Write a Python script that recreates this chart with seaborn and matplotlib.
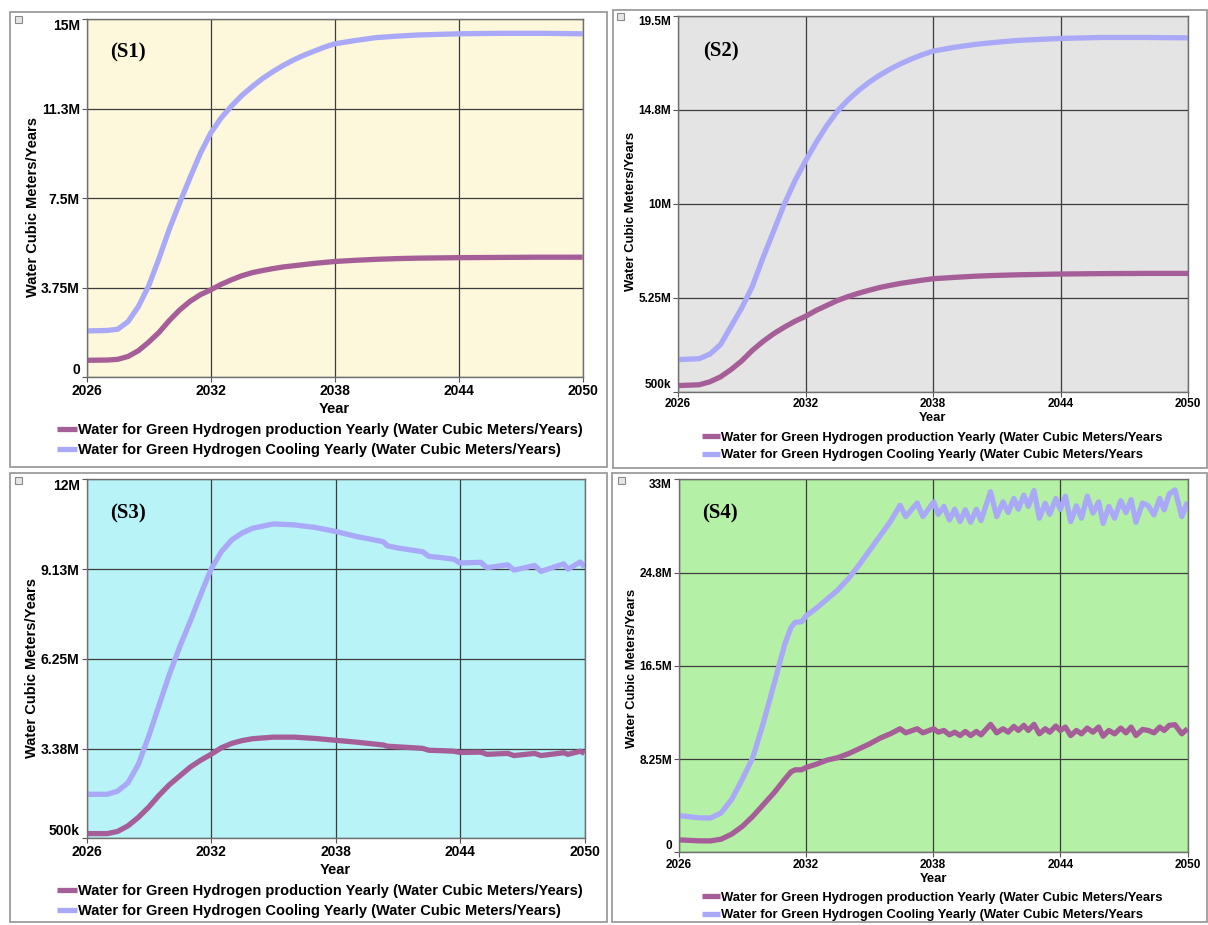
import matplotlib
matplotlib.use("Agg")
import matplotlib.pyplot as plt
import pandas as pd
import seaborn as sns
from matplotlib.patches import Rectangle

# ---------------------------------------------------------------- data (million m3 / year)
years_smooth = [2026, 2027, 2027.5, 2028, 2028.5, 2029, 2029.5, 2030, 2030.5, 2031, 2031.5,
                2032, 2032.5, 2033, 2033.5, 2034, 2034.5, 2035, 2035.5, 2036, 2036.5, 2037,
                2037.5, 2038, 2039, 2040, 2041, 2042, 2044, 2046, 2048, 2050]

s1_production = [0.70, 0.71, 0.74, 0.86, 1.10, 1.46, 1.87, 2.37, 2.81, 3.17, 3.45,
                 3.65, 3.88, 4.07, 4.24, 4.37, 4.46, 4.54, 4.61, 4.66, 4.71, 4.76,
                 4.80, 4.84, 4.89, 4.93, 4.96, 4.98, 5.00, 5.01, 5.02, 5.02]
s1_cooling = [1.93, 1.95, 2.00, 2.32, 2.95, 3.82, 4.97, 6.20, 7.30, 8.35, 9.37,
              10.22, 10.85, 11.35, 11.79, 12.16, 12.50, 12.79, 13.05, 13.28, 13.48, 13.65,
              13.82, 13.96, 14.10, 14.22, 14.28, 14.33, 14.38, 14.40, 14.40, 14.38]

s2_production = [0.80, 0.84, 0.99, 1.24, 1.61, 2.05, 2.58, 3.03, 3.42, 3.75, 4.05,
                 4.30, 4.60, 4.85, 5.10, 5.30, 5.47, 5.62, 5.76, 5.87, 5.97, 6.05,
                 6.13, 6.20, 6.27, 6.33, 6.37, 6.40, 6.44, 6.46, 6.47, 6.47]
s2_cooling = [2.11, 2.16, 2.39, 2.87, 3.80, 4.73, 5.82, 7.26, 8.61, 9.97, 11.15,
              12.16, 13.09, 13.94, 14.67, 15.24, 15.72, 16.14, 16.50, 16.81, 17.08, 17.32,
              17.53, 17.71, 17.90, 18.05, 18.16, 18.25, 18.35, 18.40, 18.40, 18.38]

s3_years = [2026, 2027, 2027.5, 2028, 2028.5, 2029, 2029.5, 2030, 2030.5, 2031, 2031.5,
            2032, 2032.5, 2033, 2033.5, 2034, 2035, 2036, 2037, 2038, 2039, 2040, 2040.3,
            2040.5, 2041, 2042, 2042.2, 2042.5, 2043, 2043.7, 2044, 2045, 2045.3, 2046.3,
            2046.6, 2047.6, 2047.9, 2049.0, 2049.2, 2049.8, 2050]
s3_production = [0.65, 0.65, 0.72, 0.90, 1.17, 1.50, 1.88, 2.22, 2.50, 2.78, 3.00,
                 3.19, 3.40, 3.54, 3.63, 3.69, 3.74, 3.74, 3.70, 3.64, 3.58, 3.51, 3.49,
                 3.45, 3.43, 3.39, 3.38, 3.32, 3.31, 3.29, 3.25, 3.26, 3.19, 3.22,
                 3.15, 3.22, 3.15, 3.24, 3.19, 3.29, 3.22]
s3_cooling = [1.91, 1.91, 2.01, 2.28, 2.87, 3.77, 4.77, 5.76, 6.65, 7.45, 8.30,
              9.12, 9.68, 10.06, 10.28, 10.43, 10.57, 10.54, 10.46, 10.33, 10.17, 10.04, 10.00,
              9.87, 9.80, 9.70, 9.68, 9.53, 9.50, 9.44, 9.32, 9.34, 9.17, 9.26,
              9.09, 9.24, 9.05, 9.29, 9.12, 9.35, 9.19]

s4_years = [2026, 2027, 2027.5, 2028, 2028.5, 2029, 2029.5, 2030, 2030.5, 2031, 2031.3,
            2031.5, 2031.8, 2032, 2032.5, 2033, 2033.5, 2034, 2034.5, 2035, 2035.5, 2036,
            2036.44, 2036.71, 2037.25, 2037.52, 2038.03, 2038.24, 2038.51, 2038.77,
            2039.02, 2039.27, 2039.52, 2039.77, 2040.04, 2040.26, 2040.71, 2041.0,
            2041.3, 2041.54, 2041.81, 2042.02, 2042.28, 2042.49, 2042.76, 2043.01,
            2043.29, 2043.5, 2043.79, 2044.0, 2044.24, 2044.49, 2044.76, 2045.0,
            2045.27, 2045.54, 2045.81, 2046.02, 2046.29, 2046.56, 2046.85, 2047.1,
            2047.34, 2047.57, 2047.88, 2048.15, 2048.42, 2048.69, 2048.9, 2049.14,
            2049.41, 2049.73, 2050.0]
s4_production = [1.10, 1.01, 1.01, 1.16, 1.61, 2.29, 3.19, 4.23, 5.27, 6.46, 7.12,
                 7.30, 7.30, 7.50, 7.80, 8.16, 8.37, 8.72, 9.15, 9.59, 10.10, 10.50,
                 10.93, 10.57, 10.93, 10.57, 10.93, 10.63, 10.78, 10.39, 10.63, 10.33,
                 10.69, 10.33, 10.69, 10.39, 11.32, 10.57, 10.93, 10.63, 11.14, 10.78,
                 11.23, 10.78, 11.32, 10.48, 10.93, 10.63, 11.17, 10.78, 11.08, 10.33,
                 10.78, 10.48, 10.99, 10.63, 11.08, 10.27, 10.78, 10.48, 10.99, 10.57,
                 11.08, 10.33, 10.87, 10.78, 10.57, 11.08, 10.78, 11.23, 11.29, 10.48,
                 10.93]
s4_cooling = [3.25, 3.04, 3.04, 3.48, 4.68, 6.46, 8.40, 11.50, 14.90, 18.40, 19.90,
              20.35, 20.40, 20.90, 21.60, 22.40, 23.20, 24.20, 25.40, 26.70, 28.00, 29.30,
              30.70, 29.70, 30.90, 29.70, 31.00, 29.90, 30.60, 29.40, 30.35, 29.26,
              30.30, 29.20, 30.35, 29.35, 31.90, 29.70, 31.00, 30.06, 31.30, 30.35,
              31.60, 30.60, 32.00, 29.56, 30.88, 29.90, 31.30, 30.35, 31.50, 29.26,
              30.65, 29.56, 31.50, 30.00, 31.00, 29.10, 30.60, 29.56, 31.10, 30.06,
              31.20, 29.20, 30.90, 30.65, 29.85, 31.30, 30.30, 31.70, 32.06, 29.70,
              31.00]

x_ticks = [2026, 2032, 2038, 2044, 2050]
s1_yticks = [0, 3.75, 7.5, 11.25, 15]
s1_ylabels = ["0", "3.75M", "7.5M", "11.3M", "15M"]
s2_yticks = [0.5, 5.25, 10, 14.75, 19.5]
s2_ylabels = ["500k", "5.25M", "10M", "14.8M", "19.5M"]
s3_yticks = [0.5, 3.375, 6.25, 9.125, 12]
s3_ylabels = ["500k", "3.38M", "6.25M", "9.13M", "12M"]
s4_yticks = [0, 8.25, 16.5, 24.75, 33]
s4_ylabels = ["0", "8.25M", "16.5M", "24.8M", "33M"]

panel_titles = ["(S1)", "(S2)", "(S3)", "(S4)"]
label_production = "Water for Green Hydrogen production Yearly (Water Cubic Meters/Years)"
label_cooling = "Water for Green Hydrogen Cooling Yearly (Water Cubic Meters/Years)"
label_production_short = "Water for Green Hydrogen production Yearly (Water Cubic Meters/Years"
label_cooling_short = "Water for Green Hydrogen Cooling Yearly (Water Cubic Meters/Years"

# ---------------------------------------------------------------- style
sns.set_theme(style="white")
plt.rcParams["font.family"] = ["Liberation Sans", "DejaVu Sans"]
plt.rcParams["font.weight"] = "bold"
plt.rcParams["text.color"] = "black"
plt.rcParams["axes.labelcolor"] = "black"

PROD_COLOR = "#A65E98"
COOL_COLOR = "#A9A9F8"
GRID_COLOR = "#3c3c3c"

W, H = 1208, 925
fig = plt.figure(figsize=(W / 100, H / 100), dpi=100)
fig.patch.set_facecolor("white")


def fig_rect(left, top, right, bottom):
    return [left / W, 1 - bottom / H, (right - left) / W, (bottom - top) / H]


panels = [
    dict(years=years_smooth, prod=s1_production, cool=s1_cooling, yticks=s1_yticks,
         ylabels=s1_ylabels, bg="#FDF7DB", title=panel_titles[0],
         plot=(86.7, 19.0, 582.7, 377.0), box=(9.5, 12.5, 606.5, 467.5),
         title_xy=(128, 52), ylabel_x=33, ylabel_y=207, year_y=409,
         legend_xy=(57, 423), big=True, icon=(15, 16),
         labels=(label_production, label_cooling)),
    dict(years=years_smooth, prod=s2_production, cool=s2_cooling, yticks=s2_yticks,
         ylabels=s2_ylabels, bg="#E4E4E4", title=panel_titles[1],
         plot=(678.0, 15.7, 1188.0, 391.5), box=(612.5, 9.5, 1206.5, 468.0),
         title_xy=(721, 51), ylabel_x=631, ylabel_y=211, year_y=418,
         legend_xy=(702, 431.5), big=False, icon=(617, 13),
         labels=(label_production_short, label_cooling_short)),
    dict(years=s3_years, prod=s3_production, cool=s3_cooling, yticks=s3_yticks,
         ylabels=s3_ylabels, bg="#B8F3F7", title=panel_titles[2],
         plot=(86.5, 479.3, 584.5, 838.3), box=(10.0, 472.5, 607.0, 922.0),
         title_xy=(128, 513), ylabel_x=32, ylabel_y=668, year_y=870,
         legend_xy=(57, 884), big=True, icon=(15, 477),
         labels=(label_production, label_cooling)),
    dict(years=s4_years, prod=s4_production, cool=s4_cooling, yticks=s4_yticks,
         ylabels=s4_ylabels, bg="#B4F0A6", title=panel_titles[3],
         plot=(678.7, 479.3, 1187.5, 852.3), box=(611.5, 472.5, 1206.5, 922.0),
         title_xy=(720, 513), ylabel_x=632, ylabel_y=668, year_y=879,
         legend_xy=(702, 891.5), big=False, icon=(618, 477),
         labels=(label_production_short, label_cooling_short)),
]

for p in panels:
    # outer frame of each chart window
    bl, bt, br, bb = p["box"]
    fig.patches.append(Rectangle((bl / W, 1 - bb / H), (br - bl) / W, (bb - bt) / H,
                                 transform=fig.transFigure, fill=False,
                                 edgecolor="#9c9c9c", linewidth=1.3, zorder=0))
    ix, iy = p["icon"]
    fig.patches.append(Rectangle((ix / W, 1 - (iy + 7) / H), 7 / W, 7 / H,
                                 transform=fig.transFigure, facecolor="#e6e6e6",
                                 edgecolor="#8a8a8a", linewidth=0.8, zorder=1))

    left, top, right, bottom = p["plot"]
    ax = fig.add_axes(fig_rect(left, top, right, bottom))
    ax.set_facecolor(p["bg"])

    tick_fs = 10 if p["big"] else 8.5
    label_fs = 10.5 if p["big"] else 9.4
    legend_fs = 10.5 if p["big"] else 9.4

    df = pd.DataFrame({"Year": p["years"], "Production": p["prod"], "Cooling": p["cool"]})
    sns.lineplot(data=df, x="Year", y="Production", ax=ax, color=PROD_COLOR,
                 linewidth=3.8, label=p["labels"][0], legend=False,
                 solid_capstyle="butt", solid_joinstyle="round")
    sns.lineplot(data=df, x="Year", y="Cooling", ax=ax, color=COOL_COLOR,
                 linewidth=3.8, label=p["labels"][1], legend=False,
                 solid_capstyle="butt", solid_joinstyle="round")

    ax.set_xlim(2026, 2050)
    ax.set_ylim(p["yticks"][0], p["yticks"][-1])
    ax.set_xticks(x_ticks)
    ax.set_xticklabels([str(t) for t in x_ticks], fontsize=tick_fs, fontweight="bold")
    ax.set_yticks(p["yticks"])
    ax.set_yticklabels(p["ylabels"], fontsize=tick_fs, fontweight="bold")
    ylabs = ax.get_yticklabels()
    ylabs[0].set_verticalalignment("bottom")
    ylabs[-1].set_verticalalignment("top")

    ax.tick_params(axis="both", which="major", direction="out", length=3.5, width=0.8,
                   color="#555555", pad=1.5, labelcolor="black", bottom=True, left=True)
    ax.set_axisbelow(True)
    ax.grid(True, color=GRID_COLOR, linewidth=0.9)
    for sp in ax.spines.values():
        sp.set_color("#707070")
        sp.set_linewidth(1.0)

    plot_h = bottom - top
    plot_w = right - left
    ax.set_xlabel("Year", fontsize=label_fs, fontweight="bold", va="center")
    ax.xaxis.set_label_coords(0.5, -(p["year_y"] - bottom) / plot_h)
    ax.set_ylabel("Water Cubic Meters/Years", fontsize=label_fs, fontweight="bold",
                  va="center")
    ax.yaxis.set_label_coords((p["ylabel_x"] - left) / plot_w,
                              (bottom - p["ylabel_y"]) / plot_h)

    tx, ty = p["title_xy"]
    ax.text((tx - left) / plot_w, (bottom - ty) / plot_h, p["title"],
            transform=ax.transAxes, ha="center", va="center", fontsize=15,
            fontweight="bold", color="black",
            family=["Liberation Serif", "DejaVu Serif"])

    handles, labels = ax.get_legend_handles_labels()
    lx, ly = p["legend_xy"]
    leg = ax.legend(handles, labels, loc="upper left",
                    bbox_to_anchor=(lx / W, 1 - ly / H), bbox_transform=fig.transFigure,
                    frameon=False, handlelength=1.35,
                    handletextpad=0.12, borderpad=0, borderaxespad=0,
                    labelspacing=0.42, prop={"weight": "bold", "size": legend_fs})
    for line in leg.get_lines():
        line.set_linewidth(3.8)
    for t in leg.get_texts():
        t.set_color("black")

fig.savefig("out.png", dpi=100, facecolor="white")
